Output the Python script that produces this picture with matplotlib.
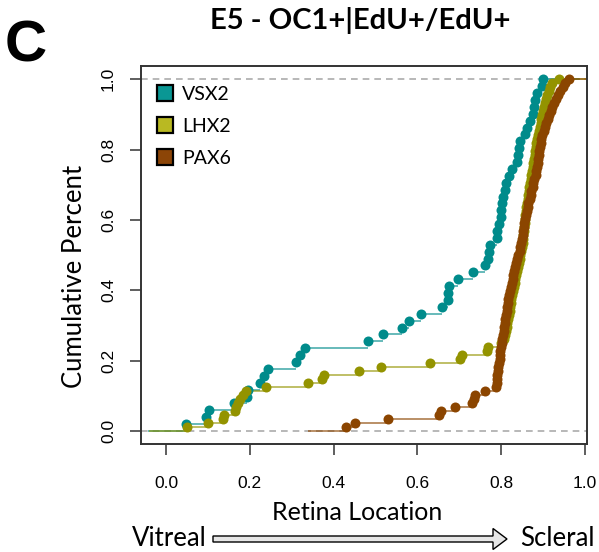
import matplotlib
matplotlib.use("Agg")
import matplotlib.pyplot as plt
import matplotlib.patches as mpatches
from matplotlib.lines import Line2D
from matplotlib.transforms import IdentityTransform
import numpy as np

#-------------------------------------------------------------------------------

# Sorted retina locations (0 = vitreal, 1 = scleral), one ECDF per marker
vsx2_loc = [
  0.048, 0.095, 0.103, 0.162, 0.193, 0.195, 0.224, 0.235, 0.243, 0.311,
  0.320, 0.332, 0.481, 0.517, 0.563, 0.581, 0.609, 0.658, 0.672, 0.674,
  0.676, 0.698, 0.733, 0.761, 0.769, 0.771, 0.773, 0.789, 0.790, 0.795,
  0.799, 0.800, 0.802, 0.805, 0.809, 0.812, 0.818, 0.825, 0.837, 0.840,
  0.842, 0.846, 0.857, 0.862, 0.869, 0.875, 0.878, 0.880, 0.885, 0.897,
  0.899,
]

lhx2_loc = [
  0.050, 0.101, 0.136, 0.139, 0.165, 0.168, 0.172, 0.177, 0.183, 0.191,
  0.239, 0.340, 0.372, 0.377, 0.461, 0.513, 0.630, 0.702, 0.706, 0.765,
  0.768, 0.800, 0.806, 0.810, 0.812, 0.814, 0.815, 0.817, 0.818, 0.820,
  0.821, 0.823, 0.824, 0.826, 0.828, 0.830, 0.832, 0.834, 0.836, 0.838,
  0.840, 0.842, 0.844, 0.846, 0.848, 0.850, 0.851, 0.852, 0.853, 0.854,
  0.855, 0.856, 0.857, 0.858, 0.859, 0.860, 0.862, 0.863, 0.864, 0.866,
  0.867, 0.869, 0.870, 0.872, 0.874, 0.875, 0.877, 0.878, 0.880, 0.881,
  0.883, 0.884, 0.886, 0.888, 0.890, 0.892, 0.894, 0.896, 0.898, 0.900,
  0.902, 0.905, 0.907, 0.910, 0.913, 0.916, 0.921, 0.939,
]

pax6_loc = [
  0.430, 0.451, 0.531, 0.652, 0.657, 0.690, 0.731, 0.735, 0.738, 0.761,
  0.788, 0.789, 0.790, 0.791, 0.792, 0.793, 0.794, 0.796, 0.797, 0.798,
  0.800, 0.801, 0.803, 0.804, 0.806, 0.807, 0.808, 0.810, 0.811, 0.813,
  0.814, 0.816, 0.817, 0.819, 0.821, 0.823, 0.825, 0.827, 0.828, 0.830,
  0.833, 0.835, 0.838, 0.841, 0.844, 0.846, 0.848, 0.849, 0.851, 0.852,
  0.854, 0.855, 0.857, 0.859, 0.861, 0.863, 0.865, 0.868, 0.870, 0.872,
  0.875, 0.877, 0.879, 0.882, 0.884, 0.886, 0.887, 0.889, 0.890, 0.891,
  0.893, 0.894, 0.896, 0.898, 0.901, 0.904, 0.908, 0.911, 0.914, 0.918,
  0.922, 0.926, 0.931, 0.936, 0.941, 0.947, 0.953, 0.962,
]

series_names = ["VSX2", "LHX2", "PAX6"]
series_locs = [vsx2_loc, lhx2_loc, pax6_loc]
point_colors = ["#008b8b", "#939300", "#8b4500"]
legend_colors = ["#0a9794", "#b9b922", "#8c4507"]

x_ticks = [0.0, 0.2, 0.4, 0.6, 0.8, 1.0]
y_ticks = [0.0, 0.2, 0.4, 0.6, 0.8, 1.0]

#-------------------------------------------------------------------------------

def draw_ecdf(ax, loc, color, ext=0.09):
  """ R-style plot.ecdf: horizontal steps plus a dot at each jump.
  """
  x = np.asarray(loc)
  n = len(x)
  y = np.arange(1, n + 1) / n
  x_left = np.concatenate([[x[0] - ext], x])
  x_right = np.concatenate([x, [x[-1] + ext]])
  y_lvl = np.concatenate([[0.0], y])
  ax.hlines(y_lvl, x_left, x_right, colors=color, lw=1.4, alpha=0.6, zorder=2)
  ax.plot(x, y, "o", color=color, ms=7.2, mec="none", zorder=3)

def main():
  W, H = 599, 552
  fig = plt.figure(figsize=(W / 100, H / 100), dpi=100)
  ax = fig.add_axes([141 / W, 1 - 444 / H, 446 / W, 378.3 / H])

  txt_font = ["Lato", "DejaVu Sans"]
  num_font = ["Liberation Sans", "DejaVu Sans"]

  for val in (0.0, 1.0):
    ax.axhline(val, color="#ababab", lw=1.2, ls=(0, (4, 3)), zorder=1)

  for loc, col in zip(series_locs, point_colors):
    draw_ecdf(ax, loc, col)

  ax.set_xlim(-0.0597, 1.0048)
  ax.set_ylim(-0.037, 1.0387)
  ax.set_xticks(x_ticks)
  ax.set_yticks(y_ticks)
  ax.set_xticklabels(["{:.1f}".format(v) for v in x_ticks], family=num_font, fontsize=12.5)
  ax.set_yticklabels(["{:.1f}".format(v) for v in y_ticks], family=num_font, fontsize=12.5,
                     rotation=90, va="center")
  ax.tick_params(axis="both", length=8, width=1.1, color="#333333")
  ax.tick_params(axis="x", pad=15)
  ax.tick_params(axis="y", pad=10)
  for sp in ax.spines.values():
    sp.set_color("#333333")
    sp.set_linewidth(1.4)

  handles = [Line2D([], [], marker="s", ls="none", ms=11, mfc=c, mec="black", mew=1.6)
             for c in legend_colors]
  ax.legend(handles, series_names, loc="upper left", bbox_to_anchor=(142 / W, 1 - 72 / H),
            bbox_transform=fig.transFigure, frameon=False, prop={"family": txt_font, "size": 14},
            handlelength=1.0, handletextpad=0.35, labelspacing=0.78, borderpad=0.2)

  # Texts around the panel
  fig.text(26 / W, 1 - 47 / H, "C", family=num_font, weight="bold", fontsize=42,
           ha="center", va="center")
  fig.text(360 / W, 1 - 21 / H, "E5 - OC1+|EdU+/EdU+", family=txt_font, weight="bold",
           fontsize=21, ha="center", va="center")
  fig.text(75 / W, 1 - 276 / H, "Cumulative Percent", family=txt_font, fontsize=18.5,
           rotation=90, ha="center", va="center")
  fig.text(357 / W, 1 - 513 / H, "Retina Location", family=txt_font, fontsize=18,
           ha="center", va="center")
  fig.text(169 / W, 1 - 539 / H, "Vitreal", family=txt_font, fontsize=18.5,
           ha="center", va="center")
  fig.text(557 / W, 1 - 539 / H, "Scleral", family=txt_font, fontsize=18.5,
           ha="center", va="center")

  # Hollow block arrow between Vitreal and Scleral
  arrow = mpatches.FancyArrow(213, H - 539, 294, 0, width=6, head_width=21, head_length=14,
                              length_includes_head=True, fc="#e6e6e6", ec="black", lw=1.0,
                              transform=IdentityTransform())
  fig.add_artist(arrow)

  fig.savefig("out.png", dpi=100)
  plt.close(fig)

if __name__ == "__main__":
  main()
